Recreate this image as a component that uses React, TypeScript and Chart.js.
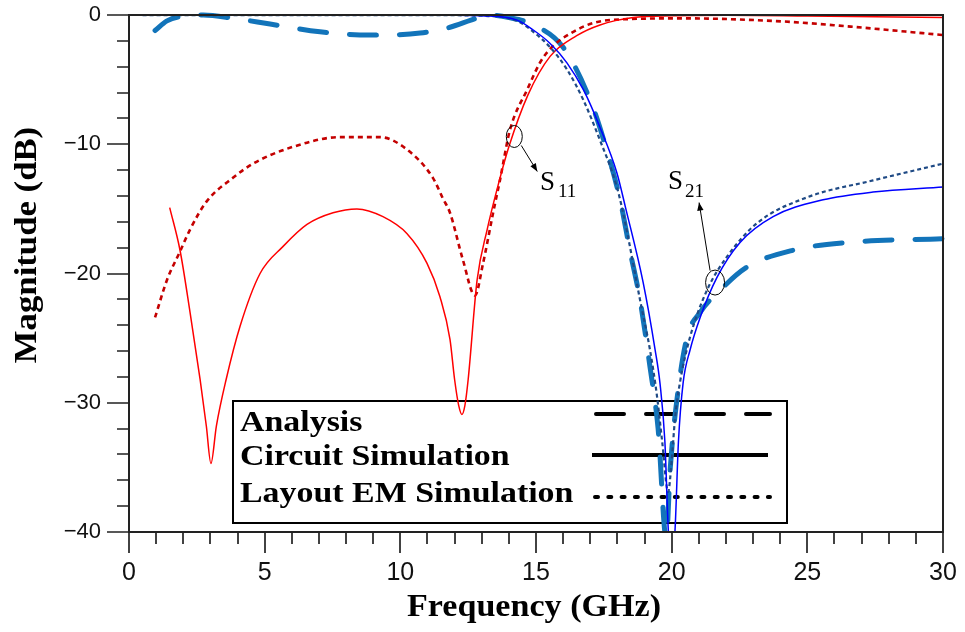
import React, { useEffect, useRef } from 'react';
import { Chart, registerables } from 'chart.js';

Chart.register(...registerables);

// ---- Data (frequency in GHz, magnitude in dB) ----
const s11CircuitFreq = [1.5, 1.88, 2.25, 2.62, 2.85, 3.02, 3.22, 3.58, 4.09, 4.83, 5.68, 6.56, 7.52, 8.4, 9.36, 10.24, 10.98, 11.46, 11.83, 12.0, 12.15, 12.27, 12.38, 12.5, 12.83, 13.2, 13.6, 14.0, 14.7, 15.52, 16.5, 17.36, 18.58, 20, 22, 25, 30];
const s11CircuitDb = [-14.9, -18.2, -23.0, -28.2, -31.8, -34.7, -31.8, -28.2, -24.1, -20.0, -17.9, -16.2, -15.3, -15.0, -15.6, -16.9, -19.2, -21.8, -25.1, -28.2, -30.2, -30.9, -30.2, -28.2, -20.5, -16.6, -13.2, -10.2, -6.2, -3.2, -1.6, -0.77, -0.2, -0.06, -0.02, -0.08, -0.2];

const s11EmFreq = [0.96, 1.4, 1.88, 2.25, 2.87, 3.83, 4.57, 6.04, 7.78, 9.25, 10.24, 11.2, 11.57, 11.83, 12.3, 12.75, 13.05, 13.42, 13.67, 14.04, 14.67, 15.26, 16.5, 17.73, 20.4, 24.1, 26.6, 30];
const s11EmDb = [-23.4, -20.5, -18.3, -16.6, -14.4, -12.6, -11.5, -10.2, -9.45, -9.45, -10.4, -12.6, -14.2, -15.3, -18.9, -21.7, -19.2, -15.3, -12.8, -8.9, -5.8, -3.3, -1.16, -0.39, -0.26, -0.5, -0.9, -1.55];

const s21CircuitFreq = [0.5, 3, 6, 9, 12, 13, 14.3, 14.9, 15.52, 16.14, 16.75, 17.36, 17.98, 18.3, 18.95, 19.39, 19.57, 19.75, 19.88, 20.0, 20.12, 20.25, 20.42, 20.68, 21.05, 21.67, 22.52, 23.74, 25.58, 27.42, 30];
const s21CircuitDb = [-0.02, -0.01, -0.01, -0.01, -0.02, -0.06, -0.4, -1.16, -2.2, -3.7, -5.8, -8.7, -12.2, -14.9, -20.7, -25.9, -28.5, -33.0, -40.0, -42.0, -40.0, -33.0, -28.5, -25.9, -23.4, -20.3, -17.6, -15.6, -14.3, -13.7, -13.3];

const s21EmFreq = [0.5, 3, 6, 9, 12, 13, 14.3, 14.9, 15.52, 16.14, 16.75, 17.36, 17.98, 18.28, 18.83, 19.2, 19.46, 19.65, 19.87, 20.0, 20.12, 20.3, 20.68, 21.3, 22.04, 23.15, 25, 27.42, 30];
const s21EmDb = [-0.02, -0.01, -0.01, -0.01, -0.02, -0.06, -0.45, -1.3, -2.5, -4.2, -6.6, -9.7, -13.3, -16.0, -22.0, -25.9, -29.5, -33.0, -36.9, -34.5, -31.3, -28.5, -24.9, -21.3, -18.7, -16.1, -14.1, -12.8, -11.5];

const s21AnalysisFreq = [0.96, 1.4, 2.0, 2.74, 3.83, 5.2, 7.04, 8.88, 10.73, 11.83, 12.6, 13.2, 14.0, 14.9, 16.0, 17.0, 17.5, 18.1, 18.46, 18.83, 19.2, 19.5, 19.8, 19.95, 20.24, 20.57, 21.05, 21.78, 22.78, 24.47, 26.46, 30];
const s21AnalysisDb = [-1.2, -0.45, -0.08, 0, -0.25, -0.7, -1.3, -1.55, -1.4, -0.95, -0.4, 0, -0.2, -0.75, -2.5, -6.6, -9.7, -14.3, -18.2, -22.0, -27.2, -32.0, -40.5, -35.0, -29.0, -24.9, -23.0, -21.3, -19.5, -18.2, -17.6, -17.3];

const legendLabels = ['Analysis', 'Circuit Simulation', 'Layout EM Simulation'];
const xTitle = 'Frequency (GHz)';
const yTitle = 'Magnitude (dB)';

const pairs = (xs: number[], ys: number[]) => xs.map((x, i) => ({ x, y: ys[i] }));

const SERIF = '"Liberation Serif", "Times New Roman", serif';
const SANS = '"Liberation Sans", Arial, sans-serif';

function stretchedText(ctx: CanvasRenderingContext2D, text: string, x: number, y: number, font: string, sx: number, align: CanvasTextAlign, rot = 0) {
  ctx.save();
  ctx.translate(x, y);
  if (rot) ctx.rotate(rot);
  ctx.scale(sx, 1);
  ctx.font = font;
  ctx.textAlign = align;
  ctx.textBaseline = 'alphabetic';
  ctx.fillText(text, 0, 0);
  ctx.restore();
}

function arrow(ctx: CanvasRenderingContext2D, x0: number, y0: number, x1: number, y1: number) {
  ctx.beginPath();
  ctx.moveTo(x0, y0);
  ctx.lineTo(x1, y1);
  ctx.stroke();
  const ang = Math.atan2(y1 - y0, x1 - x0);
  const L = 8, W = 3.2;
  ctx.beginPath();
  ctx.moveTo(x1, y1);
  ctx.lineTo(x1 - L * Math.cos(ang) + W * Math.sin(ang), y1 - L * Math.sin(ang) - W * Math.cos(ang));
  ctx.lineTo(x1 - L * Math.cos(ang) - W * Math.sin(ang), y1 - L * Math.sin(ang) + W * Math.cos(ang));
  ctx.closePath();
  ctx.fill();
}

const decorPlugin = {
  id: 'decor',
  beforeDatasetsDraw(chart: any) {
    const { ctx } = chart;
    ctx.save();
    // legend box
    ctx.strokeStyle = '#000';
    ctx.lineWidth = 2;
    ctx.strokeRect(233, 401, 554, 122);
    ctx.fillStyle = '#000';
    const font = `bold 30px ${SERIF}`;
    stretchedText(ctx, legendLabels[0], 240, 431, font, 1.13, 'left');
    stretchedText(ctx, legendLabels[1], 240, 465, font, 1.13, 'left');
    stretchedText(ctx, legendLabels[2], 240, 502, font, 1.13, 'left');
    ctx.lineWidth = 4;
    ctx.lineCap = 'round';
    ctx.setLineDash([28, 22]);
    ctx.beginPath(); ctx.moveTo(596, 414); ctx.lineTo(770, 414); ctx.stroke();
    ctx.setLineDash([]);
    ctx.lineCap = 'butt';
    ctx.beginPath(); ctx.moveTo(592, 455); ctx.lineTo(768, 455); ctx.stroke();
    ctx.lineCap = 'round';
    ctx.setLineDash([3, 10.3]);
    ctx.beginPath(); ctx.moveTo(595, 497); ctx.lineTo(770, 497); ctx.stroke();
    ctx.restore();
  },
  afterDatasetsDraw(chart: any) {
    const { ctx, chartArea: a, scales } = chart;
    const xs = scales.x, ys = scales.y;
    ctx.save();
    ctx.strokeStyle = '#222';
    ctx.lineWidth = 2;
    ctx.strokeRect(a.left, a.top, a.right - a.left, a.bottom - a.top);
    ctx.lineWidth = 1.7;
    ctx.beginPath();
    for (let v = -40; v <= 0; v += 2) {
      const py = Math.round(ys.getPixelForValue(v));
      const len = v % 10 === 0 ? 22 : 12;
      ctx.moveTo(a.left - len, py);
      ctx.lineTo(a.left, py);
    }
    for (let v = 0; v <= 30; v += 1) {
      const px = Math.round(xs.getPixelForValue(v));
      const len = v % 5 === 0 ? 21 : 12;
      ctx.moveTo(px, a.bottom);
      ctx.lineTo(px, a.bottom + len);
    }
    ctx.stroke();

    // axis titles
    ctx.fillStyle = '#000';
    stretchedText(ctx, xTitle, 534, 616, `bold 31px ${SERIF}`, 1.1, 'center');
    stretchedText(ctx, yTitle, 36, 245, `bold 31px ${SERIF}`, 1.12, 'center', -Math.PI / 2);

    // annotations
    ctx.strokeStyle = '#000';
    ctx.fillStyle = '#000';
    ctx.lineWidth = 1;
    const e1x = xs.getPixelForValue(14.2), e1y = ys.getPixelForValue(-9.4);
    ctx.beginPath(); ctx.ellipse(e1x, e1y, 8, 11, 0, 0, Math.PI * 2); ctx.stroke();
    arrow(ctx, e1x + 7, e1y + 9, e1x + 23, e1y + 35);
    const e2x = xs.getPixelForValue(21.6), e2y = ys.getPixelForValue(-20.7);
    ctx.beginPath(); ctx.ellipse(e2x, e2y, 9.5, 12.5, 0, 0, Math.PI * 2); ctx.stroke();
    arrow(ctx, e2x - 5, e2y - 12, e2x - 16, e2y - 80);

    ctx.font = `27px ${SERIF}`;
    ctx.textAlign = 'left';
    ctx.textBaseline = 'alphabetic';
    ctx.fillText('S', 540, 190);
    ctx.fillText('S', 668, 189);
    ctx.font = `19px ${SERIF}`;
    ctx.fillText('11', 558, 197);
    ctx.fillText('21', 685, 197);
    ctx.restore();
  },
};

export default function App() {
  const ref = useRef<HTMLCanvasElement>(null);
  useEffect(() => {
    if (!ref.current) return;
    const common = { pointRadius: 0, fill: false, cubicInterpolationMode: 'monotone' as const, clip: { left: 6, top: 6, right: 6, bottom: 0 } };
    const chart = new Chart(ref.current, {
      type: 'line',
      data: {
        datasets: [
          { ...common, label: 'S21 Circuit', data: pairs(s21CircuitFreq, s21CircuitDb), borderColor: '#0000ff', borderWidth: 1.5 },
          { ...common, label: 'S21 EM', data: pairs(s21EmFreq, s21EmDb), borderColor: '#1f4a85', borderWidth: 2.2, borderDash: [4, 3] },
          { ...common, label: 'S11 Circuit', data: pairs(s11CircuitFreq, s11CircuitDb), borderColor: '#ff0000', borderWidth: 1.5 },
          { ...common, label: 'S11 EM', data: pairs(s11EmFreq, s11EmDb), borderColor: '#c40000', borderWidth: 2.6, borderDash: [5, 4] },
          { ...common, label: 'S21 Analysis', data: pairs(s21AnalysisFreq, s21AnalysisDb), borderColor: '#1274ba', borderWidth: 5, borderDash: [27, 23], borderCapStyle: 'round' },
        ],
      },
      options: {
        responsive: false,
        animation: false,
        layout: { padding: { top: 15, right: 22, left: 0, bottom: 0 } },
        plugins: { legend: { display: false }, tooltip: { enabled: false } },
        scales: {
          x: {
            type: 'linear',
            min: 0,
            max: 30,
            grid: { display: false, drawTicks: false },
            border: { display: false },
            ticks: { stepSize: 5, padding: 26, maxRotation: 0, color: '#111', font: { family: SANS, size: 25 } },
            afterFit: (s: any) => { s.height = 100; s.paddingLeft = 0; s.paddingRight = 0; },
          },
          y: {
            type: 'linear',
            min: -40,
            max: 0,
            grid: { display: false, drawTicks: false },
            border: { display: false },
            ticks: {
              stepSize: 10,
              padding: 28,
              color: '#111',
              font: { family: SANS, size: 22 },
              callback: (v: any) => (Number(v) < 0 ? '\u2212' + Math.abs(Number(v)) : String(v)),
            },
            afterFit: (s: any) => { s.width = 129; s.paddingTop = 0; s.paddingBottom = 0; },
          },
        },
      },
      plugins: [decorPlugin],
    } as any);
    return () => chart.destroy();
  }, []);
  return (
    <div style={{ position: 'fixed', left: 0, top: 0, width: 965, height: 632, background: '#fff' }}>
      <canvas ref={ref} width={965} height={632} style={{ display: 'block' }} />
    </div>
  );
}
